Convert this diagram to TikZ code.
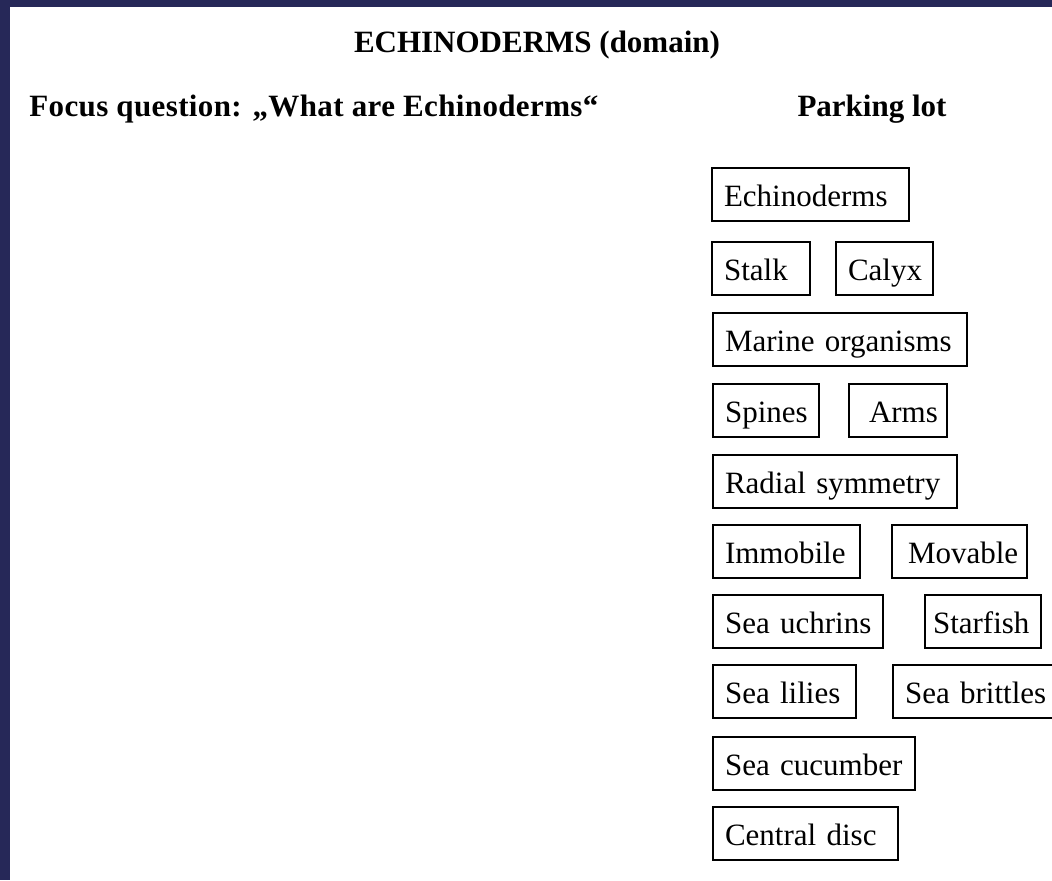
\documentclass[tikz,border=0pt]{standalone}
\usepackage{fontspec}
\setmainfont{Liberation Serif}
\definecolor{navy}{RGB}{38,40,88}

\begin{document}
\begin{tikzpicture}
		[x=0.5pt, y=-0.5pt,
		every node/.style={font=\fontsize{15.5}{18}\selectfont},
		heading/.style={font=\fontsize{15.5}{18}\selectfont\bfseries, inner sep=0pt},
		lot/.style={draw, line width=1pt, minimum height=26.5pt, inner sep=0pt,
			text height=13.7pt, text depth=1.5pt, align=left, anchor=west,
			execute at begin node={\hspace*{6pt}}},
		boxw/.style={text width=#1*0.5pt},
		]

		\useasboundingbox (0,0) rectangle (1052,880);
		\fill[navy] (0,0) rectangle (1052,880);
		\fill[white] (10,7) rectangle (1052,880);

		% headings
		\node[heading, anchor=base] (title) at (537,52) {ECHINODERMS (domain)};
		\node[heading, anchor=base west] (focus) at (29,116)
			{\addfontfeature{LetterSpace=1.2}Focus question: „What are Echinoderms“};
		\node[heading, anchor=base] (parking) at (872,116) {Parking lot};

		% parking lot
		\node[lot, boxw=197] (echinoderms) at (711,194.5) {Echinoderms};
		\node[lot, boxw=98] (stalk) at (711,268) {Stalk};
		\node[lot, boxw=97] (calyx) at (835,268) {Calyx};
		\node[lot, boxw=254] (marine) at (712,339.5) {Marine organisms};
		\node[lot, boxw=106] (spines) at (712,410.5) {Spines};
		\node[lot, boxw=98] (arms) at (848,410.5) {\hspace*{4pt}Arms};
		\node[lot, boxw=244] (radial) at (712,481.5) {Radial symmetry};
		\node[lot, boxw=147] (immobile) at (712,551) {Immobile};
		\node[lot, boxw=135] (movable) at (891,551) {\hspace*{2pt}Movable};
		\node[lot, boxw=170] (urchins) at (712,621.5) {Sea uchrins};
		\node[lot, boxw=116] (starfish) at (924,621.5) {\hspace*{-2pt}Starfish};
		\node[lot, boxw=143] (lilies) at (712,691) {Sea lilies};
		\node[lot, boxw=168] (brittles) at (892,691) {Sea brittles};
		\node[lot, boxw=202] (cucumber) at (712,763) {Sea cucumber};
		\node[lot, boxw=185] (disc) at (712,833.5) {Central disc};
	\end{tikzpicture}
\end{document}
